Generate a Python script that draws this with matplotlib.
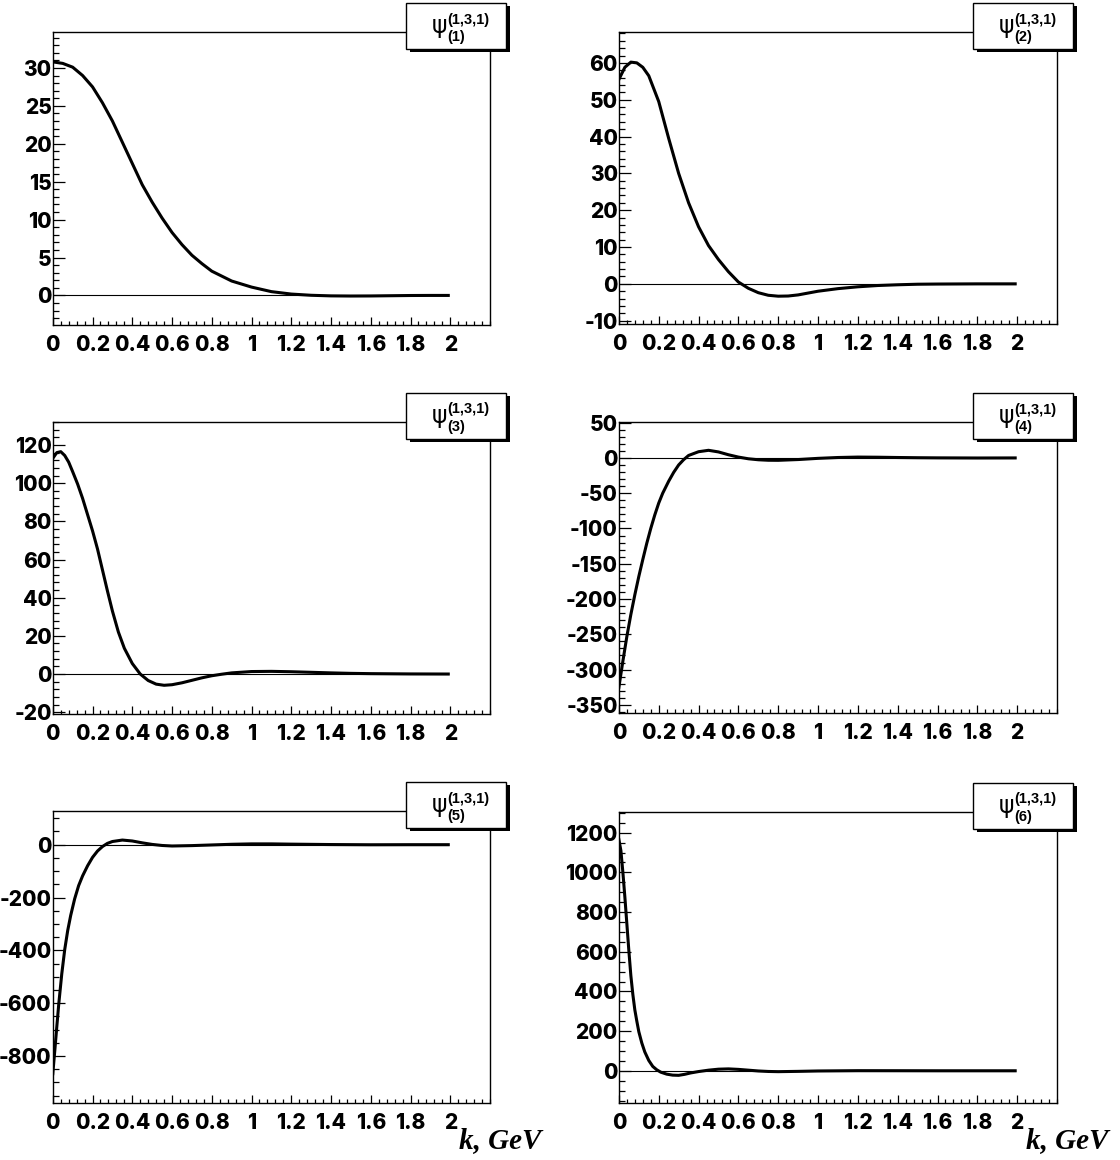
import numpy as np
import matplotlib
matplotlib.use("Agg")
import matplotlib.pyplot as plt
from matplotlib.patches import Rectangle
from matplotlib.ticker import MultipleLocator, FixedLocator, FixedFormatter

plt.rcParams["font.family"] = ["Liberation Sans", "DejaVu Sans"]

# ── data (k in GeV) ──────────────────────────────────────────────────────────
k1 = [0, 0.05, 0.1, 0.15, 0.2, 0.25, 0.3, 0.35, 0.4, 0.45, 0.5, 0.55, 0.6, 0.65,
      0.7, 0.75, 0.8, 0.9, 1.0, 1.1, 1.2, 1.3, 1.4, 1.5, 1.6, 1.7, 1.8, 1.9, 1.99]
psi1 = [30.8, 30.6, 30.1, 29.0, 27.5, 25.4, 23.0, 20.2, 17.4, 14.6, 12.3, 10.2, 8.3,
        6.7, 5.3, 4.2, 3.2, 1.9, 1.1, 0.5, 0.18, 0.02, -0.06, -0.08, -0.07, -0.04,
        -0.01, 0.0, 0.0]

k2 = [0, 0.03, 0.06, 0.09, 0.12, 0.15, 0.2, 0.25, 0.3, 0.35, 0.4, 0.45, 0.5, 0.55,
      0.6, 0.65, 0.7, 0.75, 0.8, 0.85, 0.9, 1.0, 1.1, 1.2, 1.3, 1.4, 1.5, 1.6, 1.8, 1.99]
psi2 = [55.5, 58.8, 60.2, 60.0, 58.8, 56.5, 49.5, 39.5, 30.0, 22.0, 15.5, 10.4, 6.6,
        3.3, 0.5, -1.2, -2.4, -3.1, -3.35, -3.3, -3.0, -2.0, -1.3, -0.8, -0.45, -0.25,
        -0.1, -0.05, 0.0, 0.0]

k3 = [0, 0.02, 0.04, 0.06, 0.08, 0.1, 0.125, 0.15, 0.175, 0.2, 0.225, 0.25, 0.275,
      0.3, 0.33, 0.36, 0.4, 0.44, 0.48, 0.52, 0.56, 0.6, 0.65, 0.7, 0.75, 0.8, 0.85,
      0.9, 1.0, 1.1, 1.2, 1.3, 1.4, 1.5, 1.6, 1.8, 1.99]
psi3 = [113, 116, 116.5, 114.5, 111, 106, 99.5, 92, 83.5, 75, 65.5, 54.5, 43.5, 33, 22,
        13.5, 5.5, 0, -3.4, -5.3, -5.9, -5.6, -4.6, -3.3, -2.0, -0.9, -0.1, 0.6, 1.3,
        1.4, 1.2, 0.9, 0.6, 0.35, 0.2, 0.05, 0.0]

k4 = [0, 0.02, 0.04, 0.06, 0.08, 0.1, 0.12, 0.14, 0.16, 0.18, 0.2, 0.22, 0.25, 0.275,
      0.3, 0.325, 0.35, 0.4, 0.45, 0.5, 0.55, 0.6, 0.65, 0.7, 0.75, 0.8, 0.9, 1.0,
      1.1, 1.2, 1.3, 1.4, 1.5, 1.6, 1.8, 1.99]
psi4 = [-325, -288, -253, -222, -194, -168, -144, -121, -100, -81, -64, -50, -33, -20.5,
        -10, -2.5, 3.5, 8.8, 10.8, 8.5, 4.5, 1.2, -1.2, -2.6, -3.3, -3.4, -2.3, -0.6,
        0.6, 1.2, 1.0, 0.6, 0.3, 0.1, -0.1, 0.0]

k5 = [0, 0.01, 0.02, 0.03, 0.045, 0.06, 0.075, 0.09, 0.11, 0.13, 0.15, 0.175, 0.2,
      0.225, 0.25, 0.275, 0.3, 0.35, 0.4, 0.45, 0.5, 0.55, 0.6, 0.7, 0.8, 0.9, 1.0,
      1.1, 1.2, 1.4, 1.6, 1.8, 1.99]
psi5 = [-867, -780, -690, -603, -490, -397, -325, -268, -205, -155, -118, -80, -48,
        -24, -7, 5, 12, 17.5, 14, 7, 1, -3, -5, -3.5, -1, 1.5, 3, 3, 2, 0.5, -0.3, 0, 0]

k6 = [0, 0.01, 0.02, 0.03, 0.04, 0.05, 0.06, 0.07, 0.08, 0.09, 0.1, 0.115, 0.13, 0.15,
      0.17, 0.19, 0.21, 0.24, 0.27, 0.3, 0.33, 0.36, 0.4, 0.45, 0.5, 0.55, 0.6, 0.65,
      0.7, 0.75, 0.8, 0.9, 1.0, 1.2, 1.4, 1.6, 1.8, 1.99]
psi6 = [1165, 1110, 1000, 875, 740, 605, 480, 385, 307, 250, 197, 140, 95, 52, 22, 5,
        -7, -17, -22, -23, -18, -11, -4, 3, 8, 9.5, 7, 3, -1, -3.5, -4.5, -3, -1, 0.5,
        0.3, 0, 0, 0]

names = ["(1)", "(2)", "(3)", "(4)", "(5)", "(6)"]
ks = [k1, k2, k3, k4, k5, k6]
psis = [psi1, psi2, psi3, psi4, psi5, psi6]
ylims = [(-3.9, 34.7), (-10.9, 68.3), (-21.1, 132.2),
         (-362, 50.5), (-979, 127.5), (-164, 1306)]
ymajor = [5, 10, 20, 50, 200, 200]
yminor = [1, 2, 4, 10, 50, 50]
x_ticks = [0, 0.2, 0.4, 0.6, 0.8, 1.0, 1.2, 1.4, 1.6, 1.8, 2.0]
x_labels = ["0", "0.2", "0.4", "0.6", "0.8", "1", "1.2", "1.4", "1.6", "1.8", "2"]

# ── layout (pixels, y from top) ──────────────────────────────────────────────
W, H = 1120, 1160
frames = [(52.8, 490, 32.3, 325), (618.9, 1057, 32.3, 324),
          (52.8, 490, 421.7, 714.3), (618.9, 1057, 422.3, 713.3),
          (52.8, 490, 811, 1103.3), (618.9, 1057, 811.7, 1103.3)]

TICKFONT = ["Inter", "Liberation Sans"]

fig = plt.figure(figsize=(W / 100, H / 100), dpi=100, facecolor="white")


def fx(x):
    return x / W


def fy(y):
    return 1 - y / H


for i in range(6):
    L, R, T, B = frames[i]
    ax = fig.add_axes([fx(L), fy(B), (R - L) / W, (B - T) / H])
    ax.plot(ks[i], psis[i], color="black", lw=2.2, solid_joinstyle="round", zorder=3)
    ax.plot([0, ks[i][-1]], [0, 0], color="black", lw=0.8, zorder=2)
    ax.set_xlim(0, 2.2)
    ax.set_ylim(*ylims[i])

    ax.xaxis.set_major_locator(FixedLocator(x_ticks))
    ax.xaxis.set_major_formatter(FixedFormatter(x_labels))
    ax.xaxis.set_minor_locator(MultipleLocator(0.04))
    ax.yaxis.set_major_locator(MultipleLocator(ymajor[i]))
    ax.yaxis.set_minor_locator(MultipleLocator(yminor[i]))
    ax.yaxis.set_major_formatter(plt.FuncFormatter(lambda v, p: "%d" % round(v)))

    ax.tick_params(axis="both", which="both", direction="in", top=False, right=False,
                   width=0.9, color="black")
    ax.tick_params(axis="x", which="major", length=5.5, pad=7.0, labelsize=15)
    ax.tick_params(axis="x", which="minor", length=2.7)
    ax.tick_params(axis="y", which="major", length=8.8, pad=0.8, labelsize=15)
    ax.tick_params(axis="y", which="minor", length=4.2)
    for lbl in ax.get_xticklabels() + ax.get_yticklabels():
        lbl.set_fontweight("heavy")
        lbl.set_family(TICKFONT)
    for sp in ax.spines.values():
        sp.set_linewidth(1.0)

    # legend box with ROOT-like shadow
    bl, bt = R - 84, T - 29
    bw, bh = 100, 46
    fig.add_artist(Rectangle((fx(bl + 4), fy(bt + bh + 3)), bw / W, bh / H,
                             transform=fig.transFigure, facecolor="black",
                             edgecolor="none", zorder=5))
    fig.add_artist(Rectangle((fx(bl), fy(bt + bh)), bw / W, bh / H,
                             transform=fig.transFigure, facecolor="white",
                             edgecolor="black", lw=1.0, zorder=6))
    fig.text(fx(bl + 33.5), fy(bt + 23), "\u03c8", fontsize=17,
             family="DejaVu Sans", ha="center", va="center", zorder=7)
    fig.text(fx(bl + 41), fy(bt + 16.5), "(1,3,1)", fontsize=10.5, fontweight="bold",
             ha="left", va="center", zorder=7)
    fig.text(fx(bl + 41), fy(bt + 34), names[i], fontsize=10.5, fontweight="bold",
             ha="left", va="center", zorder=7)

    if i >= 4:
        fig.text(fx(R - 31), fy(1148.5), "k, GeV", fontsize=21, family="Liberation Serif",
                 fontweight="bold", fontstyle="italic", ha="left", va="baseline")

fig.savefig("out.png", dpi=100, facecolor="white")
